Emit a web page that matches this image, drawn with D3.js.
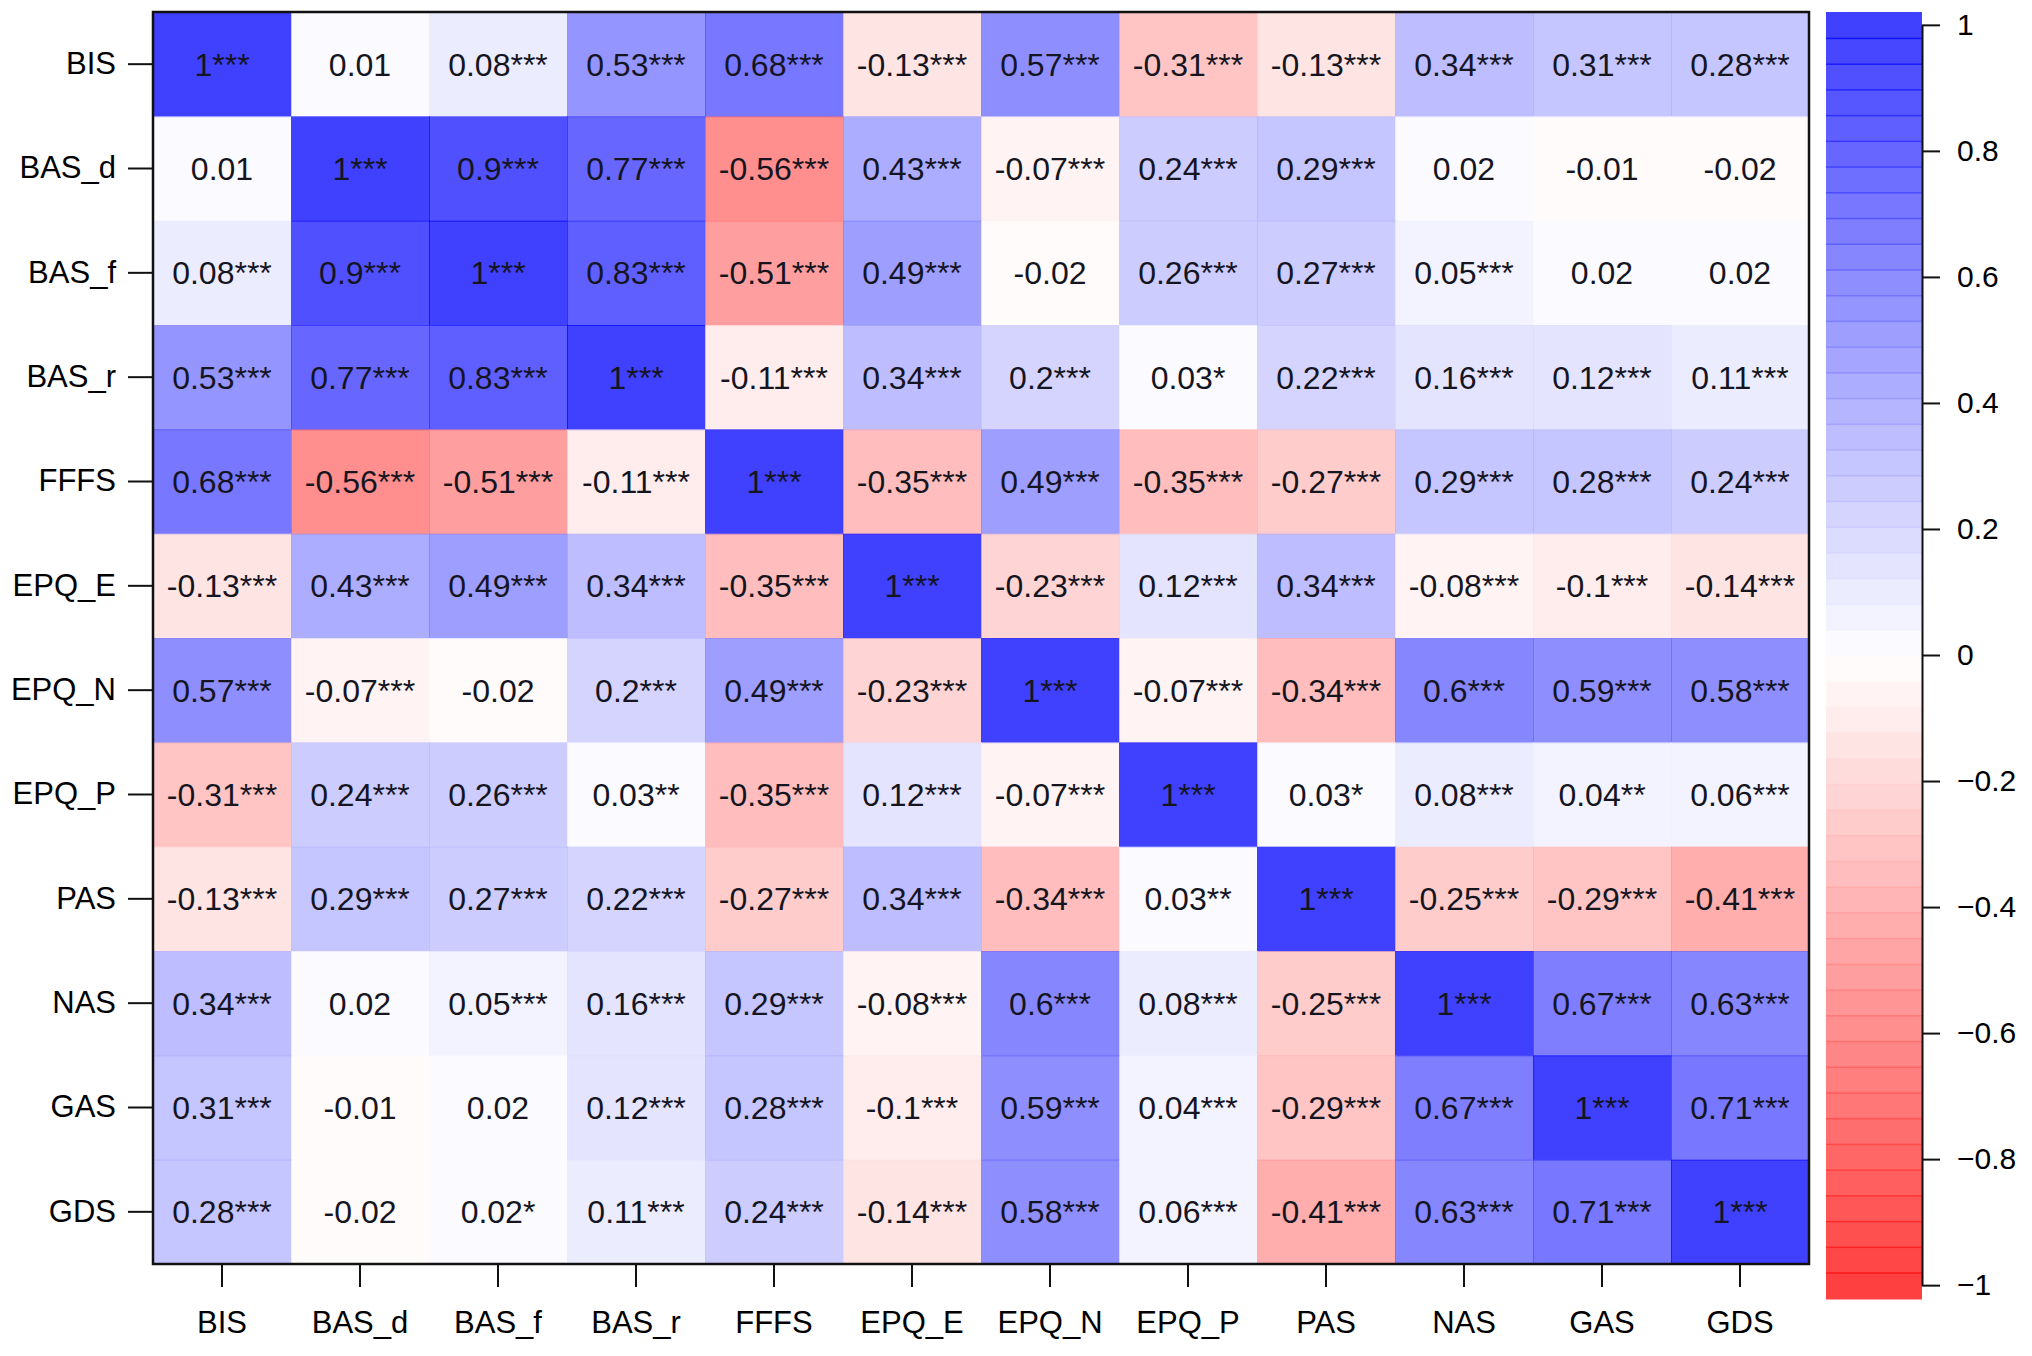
<!DOCTYPE html>
<html>
<head>
<meta charset="utf-8">
<script src="https://cdn.jsdelivr.net/npm/d3@7"></script>
<style>
  html, body { margin: 0; padding: 0; background: #fff; }
  text { font-family: "Liberation Sans", Arial, Helvetica, sans-serif; }
</style>
</head>
<body>
<svg id="chart" width="2032" height="1356"></svg>
<script>
// variable names (rows top->bottom, columns left->right)
var vars = ["BIS", "BAS_d", "BAS_f", "BAS_r", "FFFS", "EPQ_E", "EPQ_N", "EPQ_P", "PAS", "NAS", "GAS", "GDS"];

// correlation coefficients, row by row
var corr = [
  [1, 0.01, 0.08, 0.53, 0.68, -0.13, 0.57, -0.31, -0.13, 0.34, 0.31, 0.28],
  [0.01, 1, 0.9, 0.77, -0.56, 0.43, -0.07, 0.24, 0.29, 0.02, -0.01, -0.02],
  [0.08, 0.9, 1, 0.83, -0.51, 0.49, -0.02, 0.26, 0.27, 0.05, 0.02, 0.02],
  [0.53, 0.77, 0.83, 1, -0.11, 0.34, 0.2, 0.03, 0.22, 0.16, 0.12, 0.11],
  [0.68, -0.56, -0.51, -0.11, 1, -0.35, 0.49, -0.35, -0.27, 0.29, 0.28, 0.24],
  [-0.13, 0.43, 0.49, 0.34, -0.35, 1, -0.23, 0.12, 0.34, -0.08, -0.1, -0.14],
  [0.57, -0.07, -0.02, 0.2, 0.49, -0.23, 1, -0.07, -0.34, 0.6, 0.59, 0.58],
  [-0.31, 0.24, 0.26, 0.03, -0.35, 0.12, -0.07, 1, 0.03, 0.08, 0.04, 0.06],
  [-0.13, 0.29, 0.27, 0.22, -0.27, 0.34, -0.34, 0.03, 1, -0.25, -0.29, -0.41],
  [0.34, 0.02, 0.05, 0.16, 0.29, -0.08, 0.6, 0.08, -0.25, 1, 0.67, 0.63],
  [0.31, -0.01, 0.02, 0.12, 0.28, -0.1, 0.59, 0.04, -0.29, 0.67, 1, 0.71],
  [0.28, -0.02, 0.02, 0.11, 0.24, -0.14, 0.58, 0.06, -0.41, 0.63, 0.71, 1]
];

// significance stars shown after each coefficient
var stars = [
  ["***", "", "***", "***", "***", "***", "***", "***", "***", "***", "***", "***"],
  ["", "***", "***", "***", "***", "***", "***", "***", "***", "", "", ""],
  ["***", "***", "***", "***", "***", "***", "", "***", "***", "***", "", ""],
  ["***", "***", "***", "***", "***", "***", "***", "*", "***", "***", "***", "***"],
  ["***", "***", "***", "***", "***", "***", "***", "***", "***", "***", "***", "***"],
  ["***", "***", "***", "***", "***", "***", "***", "***", "***", "***", "***", "***"],
  ["***", "***", "", "***", "***", "***", "***", "***", "***", "***", "***", "***"],
  ["***", "***", "***", "**", "***", "***", "***", "***", "*", "***", "**", "***"],
  ["***", "***", "***", "***", "***", "***", "***", "**", "***", "***", "***", "***"],
  ["***", "", "***", "***", "***", "***", "***", "***", "***", "***", "***", "***"],
  ["***", "", "", "***", "***", "***", "***", "***", "***", "***", "***", "***"],
  ["***", "", "*", "***", "***", "***", "***", "***", "***", "***", "***", "***"]
];

// colour legend ticks
var legendTicks = [-1, -0.8, -0.6, -0.4, -0.2, 0, 0.2, 0.4, 0.6, 0.8, 1];

var nBins = 50;   // number of colour steps in the palette
var alpha = 0.75;

var svg = d3.select("#chart");
svg.append("rect").attr("width", 2032).attr("height", 1356).attr("fill", "#fff");

// palette red -> white -> blue, binned like corrplot
var ramp = d3.scaleLinear().domain([0, 0.5, 1]).range(["red", "white", "blue"]).interpolate(d3.interpolateRgb);
var palette = d3.range(nBins).map(function (i) { return ramp(i / (nBins - 1)); });
function colorOf(v) {
  var i = Math.floor((v + 1) / 2 * nBins);
  return palette[Math.max(0, Math.min(nBins - 1, i))];
}

// matrix scales
var x = d3.scaleBand().domain(vars).range([153, 1809]);
var y = d3.scaleBand().domain(vars).range([12, 1264]);

var cells = [];
corr.forEach(function (row, i) {
  row.forEach(function (v, j) {
    cells.push({ r: vars[i], c: vars[j], v: v, s: stars[i][j] });
  });
});

var g = svg.append("g");

g.selectAll("rect.cell")
  .data(cells)
  .enter()
  .append("rect")
  .attr("class", "cell")
  .attr("x", function (d) { return x(d.c); })
  .attr("y", function (d) { return y(d.r); })
  .attr("width", x.bandwidth() + 1)
  .attr("height", y.bandwidth() + 1)
  .attr("fill", function (d) { return colorOf(d.v); })
  .attr("fill-opacity", alpha);

g.selectAll("text.val")
  .data(cells)
  .enter()
  .append("text")
  .attr("class", "val")
  .attr("x", function (d) { return x(d.c) + x.bandwidth() / 2; })
  .attr("y", function (d) { return y(d.r) + y.bandwidth() / 2; })
  .attr("dy", "0.36em")
  .attr("text-anchor", "middle")
  .attr("font-size", 32)
  .attr("fill", "#15151f")
  .text(function (d) { return String(d.v) + d.s; });

// frame around the matrix
g.append("rect")
  .attr("x", 153).attr("y", 12)
  .attr("width", 1809 - 153).attr("height", 1264 - 12)
  .attr("fill", "none")
  .attr("stroke", "#111")
  .attr("stroke-width", 2.5);

// left axis
var yAxis = svg.append("g")
  .attr("transform", "translate(152,0)")
  .call(d3.axisLeft(y).tickSize(24).tickPadding(12).tickSizeOuter(0));
yAxis.select(".domain").remove();
yAxis.selectAll("line").attr("stroke", "#111").attr("stroke-width", 2);
yAxis.selectAll("text").attr("font-size", 31).attr("fill", "#000")
  .attr("font-family", "'Liberation Sans', Arial, sans-serif");

// bottom axis
var xAxis = svg.append("g")
  .attr("transform", "translate(0,1264)")
  .call(d3.axisBottom(x).tickSize(23).tickPadding(24).tickSizeOuter(0));
xAxis.select(".domain").remove();
xAxis.selectAll("line").attr("stroke", "#111").attr("stroke-width", 2);
xAxis.selectAll("text").attr("font-size", 31).attr("fill", "#000")
  .attr("font-family", "'Liberation Sans', Arial, sans-serif");

// colour legend
var barX = 1826, barW = 96, barTop = 12, barBottom = 1298;
var binH = (barBottom - barTop) / nBins;
var ly = d3.scaleLinear().domain([1, -1]).range([barTop + binH / 2, barBottom - binH / 2]);

svg.append("g").selectAll("rect")
  .data(palette)
  .enter()
  .append("rect")
  .attr("x", barX)
  .attr("y", function (d, i) { return barBottom - (i + 1) * binH; })
  .attr("width", barW)
  .attr("height", binH + 1.5)
  .attr("fill", function (d) { return d; })
  .attr("fill-opacity", alpha);

var lAxis = svg.append("g")
  .attr("transform", "translate(" + (barX + barW) + ",0)")
  .call(d3.axisRight(ly).tickValues(legendTicks).tickFormat(d3.format("")).tickSize(18).tickPadding(17).tickSizeOuter(0));
lAxis.select(".domain").attr("stroke", "#111").attr("stroke-width", 2);
lAxis.selectAll("line").attr("stroke", "#111").attr("stroke-width", 2);
lAxis.selectAll("text").attr("font-size", 30).attr("fill", "#000")
  .attr("font-family", "'Liberation Sans', Arial, sans-serif");
</script>
</body>
</html>
